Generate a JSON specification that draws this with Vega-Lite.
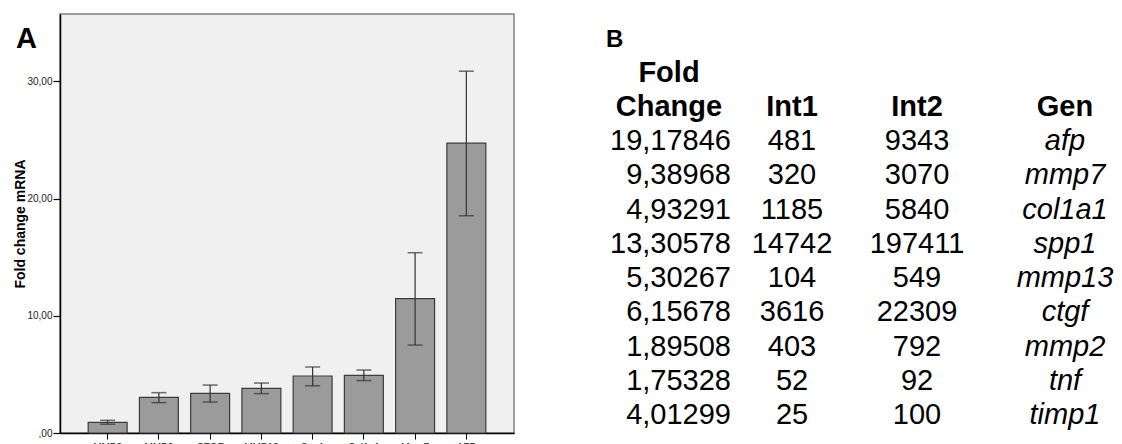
{
  "$schema": "https://vega.github.io/schema/vega-lite/v6.json",
  "background": "white",
  "padding": {"left": 12, "top": 13, "right": 0, "bottom": 0},
  "spacing": 91,
  "config": {
    "font": "Liberation Sans",
    "view": {"stroke": null},
    "locale": {"number": {"decimal": ",", "thousands": ".", "grouping": [3], "currency": ["", " €"]}}
  },
  "datasets": {
    "bars": [
      {"gene": "MMP2", "mean": 0.91, "lo": 0.75, "hi": 1.08},
      {"gene": "MMP9", "mean": 3.04, "lo": 2.59, "hi": 3.44},
      {"gene": "CTGF", "mean": 3.38, "lo": 2.64, "hi": 4.09},
      {"gene": "MMP13", "mean": 3.81, "lo": 3.36, "hi": 4.26},
      {"gene": "Spp1", "mean": 4.86, "lo": 4.04, "hi": 5.63},
      {"gene": "Col1a1", "mean": 4.92, "lo": 4.47, "hi": 5.37},
      {"gene": "Mmp7", "mean": 11.46, "lo": 7.5, "hi": 15.38},
      {"gene": "AFP", "mean": 24.72, "lo": 18.53, "hi": 30.86}
    ],
    "headers": [
      {"column": "Fold Change", "line": "h1", "label": "Fold"},
      {"column": "Fold Change", "line": "h2", "label": "Change"},
      {"column": "Int1", "line": "h2", "label": "Int1"},
      {"column": "Int2", "line": "h2", "label": "Int2"},
      {"column": "Gen", "line": "h2", "label": "Gen"}
    ],
    "genes": [
      {"gen": "afp", "fold": 19.17846, "int1": 481, "int2": 9343},
      {"gen": "mmp7", "fold": 9.38968, "int1": 320, "int2": 3070},
      {"gen": "col1a1", "fold": 4.93291, "int1": 1185, "int2": 5840},
      {"gen": "spp1", "fold": 13.30578, "int1": 14742, "int2": 197411},
      {"gen": "mmp13", "fold": 5.30267, "int1": 104, "int2": 549},
      {"gen": "ctgf", "fold": 6.15678, "int1": 3616, "int2": 22309},
      {"gen": "mmp2", "fold": 1.89508, "int1": 403, "int2": 792},
      {"gen": "tnf", "fold": 1.75328, "int1": 52, "int2": 92},
      {"gen": "timp1", "fold": 4.01299, "int1": 25, "int2": 100}
    ]
  },
  "hconcat": [
    {
      "width": 454,
      "height": 419,
      "view": {"fill": "#f0f0f0", "stroke": "#808080", "strokeWidth": 1.5},
      "title": {"text": "A", "anchor": "start", "frame": "group", "orient": "top", "offset": 0, "dx": -44, "dy": 63, "baseline": "alphabetic", "fontSize": 29, "fontWeight": "bold", "color": "black"},
      "data": {"name": "bars"},
      "encoding": {
        "x": {
          "field": "gene", "type": "nominal", "sort": null,
          "scale": {"paddingInner": 0.24, "paddingOuter": 0.55},
          "axis": {"title": null, "labelAngle": 0, "labelFontSize": 10, "labelColor": "#222222", "tickSize": 6, "tickColor": "black", "domainColor": "black", "domainWidth": 1.5, "labelPadding": 3}
        }
      },
      "layer": [
        {
          "mark": {"type": "bar", "fill": "#9b9b9b", "stroke": "#3c3c3c", "strokeWidth": 1.2},
          "encoding": {
            "y": {
              "field": "mean", "type": "quantitative", "title": "Fold change mRNA",
              "scale": {"domain": [0, 35.74], "nice": false},
              "axis": {
                "title": "Fold change mRNA", "titleFontSize": 14, "titleFontWeight": "bold", "titleColor": "black", "titleX": -33,
                "values": [0, 10, 20, 30],
                "labelExpr": "datum.value == 0 ? ',00' : replace(format(datum.value, '.2f'), '.', ',')",
                "labelFontSize": 10, "labelColor": "#222222", "labelPadding": 1,
                "tickSize": 7, "tickColor": "black", "tickWidth": 1.2,
                "domainColor": "black", "domainWidth": 1.5, "grid": false
              }
            }
          }
        },
        {
          "mark": {"type": "errorbar", "ticks": {"size": 15, "thickness": 1.5, "color": "#333333"}, "rule": {"color": "#333333", "strokeWidth": 1.2}},
          "encoding": {
            "y": {"field": "lo", "type": "quantitative", "title": "Fold change mRNA"},
            "y2": {"field": "hi"}
          }
        }
      ]
    },
    {
      "spacing": 0,
      "hconcat": [
        {
          "width": 124,
          "height": 419,
          "title": {"text": "B", "anchor": "start", "frame": "group", "orient": "top", "offset": 0, "dx": -1, "dy": 57, "baseline": "alphabetic", "fontSize": 24, "fontWeight": "bold", "color": "black"},
          "layer": [
            {
              "data": {"name": "headers"},
              "transform": [{"filter": "datum.column === 'Fold Change'"}],
              "mark": {"type": "text", "fontSize": 29, "fontWeight": "bold", "align": "center", "baseline": "alphabetic", "color": "black"},
              "encoding": {
                "y": {"field": "line", "type": "nominal", "scale": {"type": "point", "domain": ["h1", "h2", "afp", "mmp7", "col1a1", "spp1", "mmp13", "ctgf", "mmp2", "tnf", "timp1"], "range": [67.7, 410], "padding": 0}, "axis": null},
                "text": {"field": "label", "type": "nominal"}
              }
            },
            {
              "data": {"name": "genes"},
              "mark": {"type": "text", "x": "width", "fontSize": 29, "align": "right", "baseline": "alphabetic", "color": "black"},
              "encoding": {
                "y": {"field": "gen", "type": "nominal"},
                "text": {"field": "fold", "type": "quantitative", "format": ".5f"}
              }
            }
          ]
        },
        {
          "width": 122,
          "height": 419,
          "layer": [
            {
              "data": {"name": "headers"},
              "transform": [{"filter": "datum.column === 'Int1'"}],
              "mark": {"type": "text", "fontSize": 29, "fontWeight": "bold", "align": "center", "baseline": "alphabetic", "color": "black"},
              "encoding": {
                "y": {"field": "line", "type": "nominal", "scale": {"type": "point", "domain": ["h1", "h2", "afp", "mmp7", "col1a1", "spp1", "mmp13", "ctgf", "mmp2", "tnf", "timp1"], "range": [67.7, 410], "padding": 0}, "axis": null},
                "text": {"field": "label", "type": "nominal"}
              }
            },
            {
              "data": {"name": "genes"},
              "mark": {"type": "text", "fontSize": 29, "align": "center", "baseline": "alphabetic", "color": "black"},
              "encoding": {
                "y": {"field": "gen", "type": "nominal"},
                "text": {"field": "int1", "type": "quantitative", "format": "d"}
              }
            }
          ]
        },
        {
          "width": 128,
          "height": 419,
          "layer": [
            {
              "data": {"name": "headers"},
              "transform": [{"filter": "datum.column === 'Int2'"}],
              "mark": {"type": "text", "fontSize": 29, "fontWeight": "bold", "align": "center", "baseline": "alphabetic", "color": "black"},
              "encoding": {
                "y": {"field": "line", "type": "nominal", "scale": {"type": "point", "domain": ["h1", "h2", "afp", "mmp7", "col1a1", "spp1", "mmp13", "ctgf", "mmp2", "tnf", "timp1"], "range": [67.7, 410], "padding": 0}, "axis": null},
                "text": {"field": "label", "type": "nominal"}
              }
            },
            {
              "data": {"name": "genes"},
              "mark": {"type": "text", "fontSize": 29, "align": "center", "baseline": "alphabetic", "color": "black"},
              "encoding": {
                "y": {"field": "gen", "type": "nominal"},
                "text": {"field": "int2", "type": "quantitative", "format": "d"}
              }
            }
          ]
        },
        {
          "width": 168,
          "height": 419,
          "layer": [
            {
              "data": {"name": "headers"},
              "transform": [{"filter": "datum.column === 'Gen'"}],
              "mark": {"type": "text", "fontSize": 29, "fontWeight": "bold", "align": "center", "baseline": "alphabetic", "color": "black"},
              "encoding": {
                "y": {"field": "line", "type": "nominal", "scale": {"type": "point", "domain": ["h1", "h2", "afp", "mmp7", "col1a1", "spp1", "mmp13", "ctgf", "mmp2", "tnf", "timp1"], "range": [67.7, 410], "padding": 0}, "axis": null},
                "text": {"field": "label", "type": "nominal"}
              }
            },
            {
              "data": {"name": "genes"},
              "mark": {"type": "text", "fontSize": 29, "fontStyle": "italic", "align": "center", "baseline": "alphabetic", "color": "black"},
              "encoding": {
                "y": {"field": "gen", "type": "nominal"},
                "text": {"field": "gen", "type": "nominal"}
              }
            }
          ]
        }
      ]
    }
  ]
}
